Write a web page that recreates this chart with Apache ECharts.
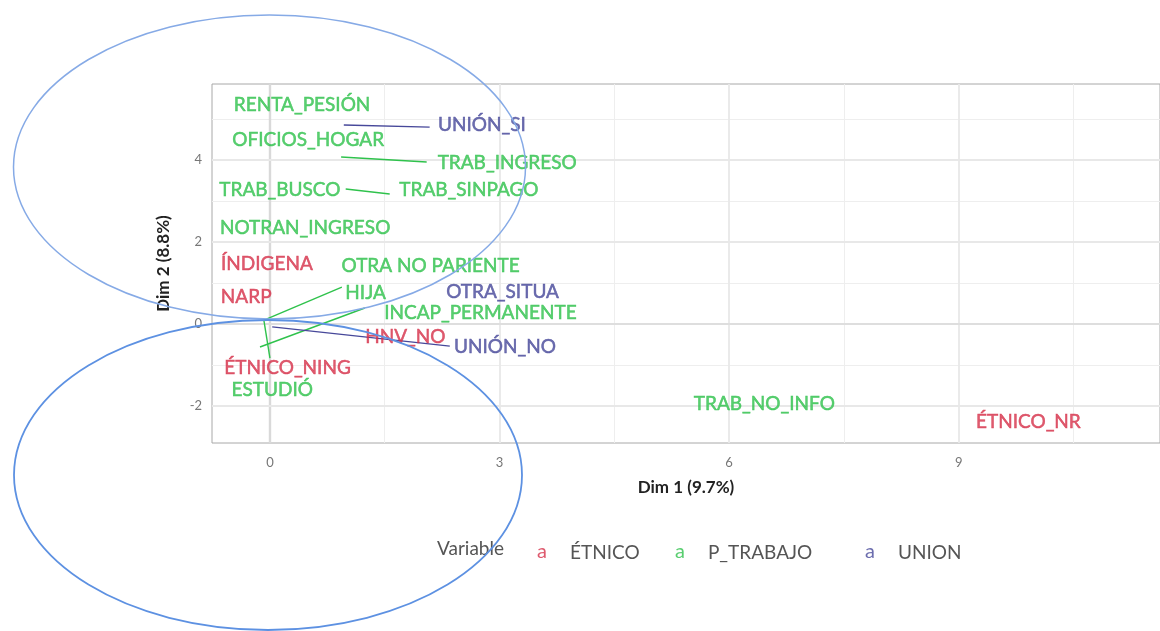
<!DOCTYPE html>
<html>
<head>
<meta charset="utf-8">
<script src="https://cdn.jsdelivr.net/npm/echarts@6/dist/echarts.min.js"></script>
<style>html,body{margin:0;padding:0;background:#fff}#c{width:1160px;height:631px}</style>
</head>
<body>
<div id="c"></div>
<script>
// ---- data ----
const categories = ['RENTA_PESIÓN','UNIÓN_SI','OFICIOS_HOGAR','TRAB_INGRESO','TRAB_BUSCO','TRAB_SINPAGO',
  'NOTRAN_INGRESO','ÍNDIGENA','OTRA NO PARIENTE','NARP','HIJA','OTRA_SITUA','INCAP_PERMANENTE',
  'HNV_NO','UNIÓN_NO','ÉTNICO_NING','ESTUDIÓ','TRAB_NO_INFO','ÉTNICO_NR'];
const variables = ['P_TRABAJO','UNION','P_TRABAJO','P_TRABAJO','P_TRABAJO','P_TRABAJO',
  'P_TRABAJO','ÉTNICO','P_TRABAJO','ÉTNICO','P_TRABAJO','UNION','P_TRABAJO',
  'ÉTNICO','UNION','ÉTNICO','P_TRABAJO','P_TRABAJO','ÉTNICO'];
// label positions (Dim 1, Dim 2)
const labelDim1 = [0.42,2.77,0.50,3.10,0.13,2.60,0.46,-0.04,2.10,-0.31,1.25,3.04,2.75,1.77,3.07,0.23,0.03,6.46,9.91];
const labelDim2 = [5.34,4.85,4.48,3.92,3.27,3.27,2.34,1.46,1.41,0.66,0.76,0.78,0.27,-0.32,-0.56,-1.07,-1.61,-1.95,-2.39];
// repel segments: point coordinate -> label end (null = no segment)
const pointDim1 = [null,0.965,null,0.93,null,0.99,null,null,null,null,-0.07,null,-0.13,null,0.03,null,-0.08,null,null];
const pointDim2 = [null,4.85,null,4.07,null,3.29,null,null,null,null,0.10,null,-0.56,null,-0.07,null,0.10,null,null];
const segEndDim1 = [null,2.087,null,2.048,null,1.565,null,null,null,null,0.94,null,1.24,null,2.35,null,0.0,null,null];
const segEndDim2 = [null,4.80,null,3.95,null,3.17,null,null,null,null,0.90,null,0.39,null,-0.54,null,-0.83,null,null];
const groupNames = ['ÉTNICO','P_TRABAJO','UNION'];
const groupColors = {'ÉTNICO':'#d6314a','P_TRABAJO':'#2fc24c','UNION':'#47489a'};
const xTicks = [0,3,6,9];
const yTicks = [-2,0,2,4];
const xMinor = [1.5,4.5,7.5,10.5];
const yMinor = [-1,1,3,5];

const chart = echarts.init(document.getElementById('c'));
const FONT = 'Lato';

const gridLines = [];
xMinor.forEach(v => gridLines.push({xAxis:v, lineStyle:{color:'#eeeeee', width:1, type:'solid'}}));
yMinor.forEach(v => gridLines.push({yAxis:v, lineStyle:{color:'#eeeeee', width:1, type:'solid'}}));
xTicks.forEach(v => gridLines.push({xAxis:v, lineStyle:{color: v===0?'#d9d9d9':'#e8e8e8', width: v===0?2.4:1.8, type:'solid'}}));
yTicks.forEach(v => gridLines.push({yAxis:v, lineStyle:{color: v===0?'#dedede':'#e8e8e8', width: v===0?2.2:1.8, type:'solid'}}));

const segData = [];
categories.forEach((c,i) => {
  if (pointDim1[i] !== null) {
    segData.push({coords:[[pointDim1[i],pointDim2[i]],[segEndDim1[i],segEndDim2[i]]],
      lineStyle:{color:groupColors[variables[i]]}});
  }
});

const series = [{
  type:'lines', coordinateSystem:'cartesian2d', silent:true, z:3,
  lineStyle:{width:1.4, opacity:1}, data:segData,
  markLine:{silent:true, symbol:'none', label:{show:false}, animation:false, z:1, data:gridLines}
}];
groupNames.forEach(g => {
  const data = [];
  categories.forEach((c,i) => { if (variables[i]===g) data.push({name:c, value:[labelDim1[i],labelDim2[i]]}); });
  series.push({
    type:'scatter', name:g, symbolSize:0, z:5, itemStyle:{color:groupColors[g]},
    data:data,
    label:{show:true, position:'inside', formatter:p=>p.name, color:groupColors[g],
      fontFamily:FONT, fontSize:19, textBorderColor:groupColors[g], textBorderWidth:0.5}
  });
});

const legendPos = {'ÉTNICO':527,'P_TRABAJO':665,'UNION':855};
const legends = groupNames.map(g => ({
  data:[g], left:legendPos[g], top:537, itemWidth:0, itemHeight:0, icon:'none',
  selectedMode:false,
  formatter: n => '{k|a}{t|' + n + '}',
  textStyle:{color:'#555', fontFamily:FONT, fontSize:19,
    rich:{
      k:{color:groupColors[g], opacity:0.8, fontSize:20, fontFamily:FONT, padding:[0,23,2,0]},
      t:{color:'#555', fontSize:19, fontFamily:FONT}
    }}
}));

chart.setOption({
  animation:false,
  backgroundColor:'#fff',
  grid:{left:212, right:-2, top:84, bottom:188, show:true, borderColor:'#a8a8a8', borderWidth:1},
  xAxis:{type:'value', min:-0.757, max:11.63,
    name:'Dim 1 (9.7%)', nameLocation:'middle', nameGap:36,
    nameTextStyle:{color:'#222', fontFamily:FONT, fontSize:17, fontWeight:'bold'},
    axisLine:{show:false}, axisTick:{show:false}, splitLine:{show:false},
    axisLabel:{customValues:xTicks, color:'#777', fontSize:13, margin:13, fontFamily:FONT}},
  yAxis:{type:'value', min:-2.9, max:5.85,
    name:'Dim 2 (8.8%)', nameLocation:'middle', nameGap:40, nameRotate:90,
    nameTextStyle:{color:'#222', fontFamily:FONT, fontSize:17, fontWeight:'bold'},
    axisLine:{show:false}, axisTick:{show:false}, splitLine:{show:false},
    axisLabel:{customValues:yTicks, color:'#777', fontSize:13, margin:10, fontFamily:FONT}},
  legend:legends,
  series:series,
  graphic:[
    {type:'text', left:437, top:539, style:{text:'Variable', fill:'#555', font:'19px Lato'}},
    {type:'ellipse', z:100, silent:true, shape:{cx:269.5, cy:167, rx:256, ry:152},
      style:{fill:null, stroke:'#86aae6', lineWidth:1.5}},
    {type:'ellipse', z:100, silent:true, shape:{cx:268, cy:475, rx:254, ry:155},
      style:{fill:null, stroke:'#5d91e2', lineWidth:1.8}}
  ]
});
</script>
</body>
</html>
